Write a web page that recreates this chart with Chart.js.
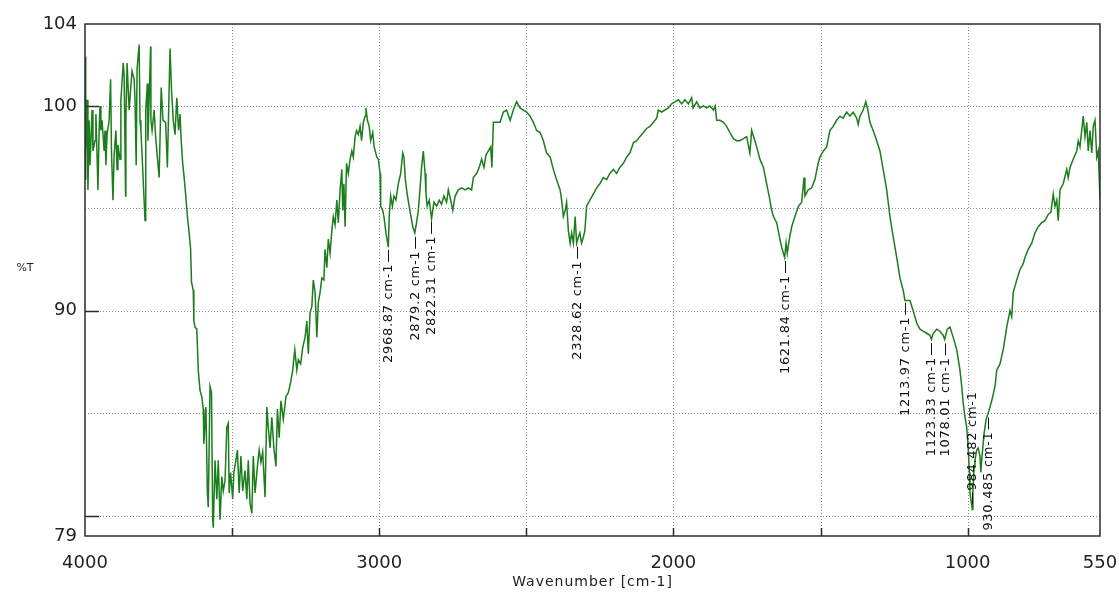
<!DOCTYPE html>
<html><head><meta charset="utf-8">
<script src="https://cdn.jsdelivr.net/npm/chart.js@4.4.0/dist/chart.umd.min.js"></script>
<style>html,body{margin:0;padding:0;background:#fff;overflow:hidden;}</style>
</head><body>
<canvas id="c" width="1119" height="595"></canvas>
<script>
// ---- data ----
const wavenumbers = [
4000,3998,3997,3993,3990,3986,3983,3976,3973,3966,
3963,3959,3956,3952,3949,3946,3942,3935,3932,3929,
3925,3918,3913,3910,3905,3901,3895,3891,3888,3881,
3878,3870,3867,3862,3861,3857,3850,3844,3840,3833,
3830,3826,3823,3816,3813,3810,3806,3796,3794,3793,
3788,3786,3777,3776,3772,3765,3760,3748,3741,3735,
3726,3720,3711,3706,3700,3694,3688,3682,3677,3673,
3668,3663,3658,3652,3646,3641,3638,3632,3630,3626,
3620,3615,3609,3603,3598,3596,3589,3584,3581,3575,
3570,3566,3564,3558,3552,3547,3541,3535,3530,3524,
3518,3513,3510,3505,3498,3494,3487,3482,3476,3470,
3464,3456,3450,3445,3439,3433,3428,3422,3414,3408,
3402,3396,3388,3382,3377,3371,3365,3358,3351,3346,
3340,3334,3326,3317,3309,3301,3294,3287,3280,3275,
3267,3260,3252,3246,3241,3235,3229,3224,3218,3212,
3207,3201,3195,3188,3184,3178,3173,3167,3161,3156,
3150,3144,3139,3133,3127,3124,3120,3116,3111,3105,
3099,3093,3088,3082,3077,3071,3065,3060,3054,3048,
3045,3040,3034,3029,3022,3017,3008,3003,2997,2995,
2988,2984,2977,2969,2966,2961,2955,2950,2943,2935,
2927,2920,2916,2911,2905,2898,2892,2886,2879,2873,
2867,2861,2856,2850,2844,2841,2837,2830,2822,2814,
2805,2796,2788,2780,2771,2765,2757,2750,2742,2731,
2720,2708,2697,2686,2680,2669,2660,2652,2644,2637,
2629,2621,2617,2612,2603,2595,2589,2578,2567,2555,
2544,2533,2521,2510,2499,2487,2476,2465,2453,2442,
2431,2419,2408,2397,2385,2380,2374,2368,2363,2357,
2351,2346,2340,2334,2329,2323,2318,2312,2306,2301,
2295,2284,2272,2261,2250,2238,2227,2216,2204,2193,
2182,2170,2159,2148,2136,2125,2114,2102,2091,2080,
2068,2057,2051,2040,2029,2017,2006,1995,1983,1972,
1961,1949,1938,1933,1921,1910,1898,1887,1876,1864,
1858,1853,1842,1830,1819,1808,1796,1785,1774,1762,
1751,1740,1734,1723,1717,1706,1694,1683,1672,1666,
1660,1649,1638,1632,1622,1617,1613,1606,1598,1587,
1575,1564,1556,1553,1542,1530,1519,1508,1502,1490,
1479,1468,1457,1445,1434,1423,1411,1400,1389,1377,
1372,1366,1355,1346,1339,1332,1321,1309,1298,1287,
1275,1264,1253,1241,1230,1219,1213,1196,1185,1173,
1162,1151,1139,1128,1123,1117,1105,1094,1083,1078,
1069,1060,1049,1037,1026,1020,1015,1009,1003,998,
994,992,984,982,978,975,969,964,958,955,
951,944,937,930,918,907,901,890,879,867,
856,850,845,833,822,811,805,794,782,771,
760,748,737,726,717,709,703,697,692,686,
675,663,658,652,641,629,624,618,607,601,
595,590,584,578,573,567,561,556,550
];
const transmittance = [
102.4,96.4,97.6,100.3,95.9,99.3,97.1,99.8,97.8,98.3,
99.6,97.6,95.9,98.8,100.0,98.8,99.3,97.8,98.8,97.1,
98.6,99.3,101.3,97.8,95.4,97.6,98.8,96.9,98.1,97.4,
100.3,102.1,101.5,95.6,99.3,102.1,99.8,101.0,101.7,101.3,
100.3,97.1,101.8,103.0,99.3,98.8,97.6,94.4,96.4,99.8,
101.1,98.3,102.9,99.3,98.8,99.8,98.5,96.5,100.9,99.3,
99.2,97.0,102.8,100.8,99.3,98.6,100.4,98.8,99.6,98.3,
97.2,96.5,95.7,94.6,93.8,93.0,91.4,91.0,89.5,89.2,
89.1,87.1,86.1,85.8,85.2,83.5,85.3,81.1,80.4,86.3,
86.0,79.8,79.4,82.7,80.8,82.7,79.8,81.9,81.2,81.7,
84.3,84.5,81.1,82.1,80.8,82.1,82.7,83.2,81.1,82.9,
81.2,82.2,80.8,82.7,80.6,80.1,82.9,81.1,82.4,83.2,
82.6,83.1,80.9,85.3,84.3,83.3,84.8,83.3,82.4,85.2,
83.8,85.6,84.7,85.8,86.0,86.5,87.1,88.1,87.1,87.6,
87.4,88.2,88.7,89.5,87.9,89.9,90.2,91.5,90.9,88.7,
90.4,90.9,91.6,91.5,93.0,92.1,93.5,92.8,93.9,94.6,
94.2,95.4,94.3,95.9,96.9,94.9,96.2,94.1,97.2,96.7,
97.4,97.8,97.5,98.5,98.8,98.6,99.0,98.3,99.2,99.5,
99.9,99.3,99.0,98.3,98.7,98.0,97.5,97.4,96.7,95.1,
94.9,94.6,93.8,93.1,94.6,95.6,95.1,95.6,95.4,96.2,
96.7,97.7,97.5,96.4,95.7,95.1,94.6,94.1,93.8,94.3,
94.9,96.0,97.0,97.8,96.7,95.7,95.1,95.4,94.5,95.3,
95.1,95.4,95.2,95.6,95.3,95.9,95.4,94.9,95.6,95.9,
96.0,95.9,96.0,95.9,96.5,96.7,97.0,97.4,97.0,97.6,
97.8,98.0,97.0,99.2,99.2,99.2,99.2,99.7,99.8,99.3,
99.8,100.2,99.9,99.8,99.7,99.5,99.2,98.8,98.7,98.3,
97.7,97.5,96.9,96.4,95.9,95.4,94.6,94.9,95.3,93.9,
93.3,93.8,93.3,94.6,93.3,93.6,93.8,93.3,93.6,93.9,
95.1,95.4,95.7,96.0,96.2,96.5,96.4,96.7,96.9,96.7,
97.0,97.2,97.5,97.7,98.2,98.3,98.5,98.7,98.9,99.0,
99.2,99.4,99.8,99.7,99.8,99.9,100.1,100.2,100.3,100.1,
100.3,100.1,100.4,99.9,100.2,99.9,100.0,99.9,100.0,99.8,
100.0,99.3,99.3,99.2,99.0,98.7,98.4,98.3,98.3,98.4,
98.5,97.7,98.8,98.3,98.0,97.4,97.0,96.2,95.4,94.9,
94.6,94.3,93.5,93.1,92.6,93.3,92.8,93.5,94.1,94.6,
95.1,95.3,96.5,95.6,95.9,96.0,96.4,97.2,97.5,97.8,
98.0,98.8,99.0,99.3,99.5,99.4,99.7,99.5,99.7,99.4,
99.1,99.5,99.8,100.2,99.8,99.2,98.8,98.3,97.8,96.9,
95.9,94.6,93.6,92.6,91.6,91.0,90.5,90.5,90.0,89.4,
89.1,89.0,88.9,88.8,88.6,88.9,89.1,89.0,88.8,88.6,
89.1,89.2,88.7,88.1,87.1,86.3,85.5,84.8,84.3,83.3,
82.1,81.1,80.3,81.1,82.4,82.7,83.2,83.3,82.9,82.1,
82.9,84.0,84.7,85.0,85.6,86.3,87.1,87.4,88.1,89.2,
90.0,89.7,90.9,91.5,92.0,92.3,92.6,93.0,93.3,93.8,
94.1,94.3,94.4,94.7,94.8,95.7,95.1,95.4,94.4,95.9,
96.2,96.9,96.5,97.0,97.4,97.8,98.3,98.0,99.5,98.5,
99.2,97.8,98.8,97.7,99.0,99.3,97.5,97.8,95.4
];
const xTickValues = [4000, 3000, 2000, 1000, 550];
const yTickValues = [79, 90, 100, 104];
const xGridValues = [3500, 3000, 2500, 2000, 1500, 1000];
const yGridValues = [80, 85, 90, 95, 100];
const yMarkValues = [80, 90, 100];
const peakPositions = [2968.87, 2879.2, 2822.31, 2328.62, 1621.84, 1213.97, 1123.33, 1078.01, 984.482, 930.485];
const peakLabels = ["2968.87 cm-1", "2879.2 cm-1", "2822.31 cm-1", "2328.62 cm-1", "1621.84 cm-1",
                    "1213.97 cm-1", "1123.33 cm-1", "1078.01 cm-1", "984.482 cm-1", "930.485 cm-1"];
const xTitle = "Wavenumber [cm-1]";
const yTitle = "%T";

function tAt(w) {
  for (let i = 0; i < wavenumbers.length - 1; i++) {
    const a = wavenumbers[i], b = wavenumbers[i + 1];
    if ((a - w) * (b - w) <= 0) {
      const f = (w - a) / (b - a);
      return transmittance[i] + f * (transmittance[i + 1] - transmittance[i]);
    }
  }
  return null;
}

const decor = {
  id: 'decor',
  beforeDatasetsDraw(chart) {
    const { ctx, chartArea: a, scales: { x, y } } = chart;
    ctx.save();
    ctx.strokeStyle = '#8a8a8a';
    ctx.lineWidth = 1;
    ctx.setLineDash([1, 2]);
    xGridValues.forEach(v => {
      const px = Math.round(x.getPixelForValue(v)) + 0.5;
      ctx.beginPath(); ctx.moveTo(px, a.top); ctx.lineTo(px, a.bottom); ctx.stroke();
    });
    yGridValues.forEach(v => {
      const py = Math.round(y.getPixelForValue(v)) + 0.5;
      ctx.beginPath(); ctx.moveTo(a.left, py); ctx.lineTo(a.right, py); ctx.stroke();
    });
    ctx.restore();
  },
  afterDatasetsDraw(chart) {
    const { ctx, chartArea: a, scales: { x, y } } = chart;
    ctx.save();
    // frame
    ctx.strokeStyle = '#2b2b2b';
    ctx.lineWidth = 1.5;
    ctx.strokeRect(a.left, a.top, a.right - a.left, a.bottom - a.top);
    // inward tick marks
    yMarkValues.forEach(v => {
      const py = Math.round(y.getPixelForValue(v)) + 0.5;
      ctx.beginPath(); ctx.moveTo(a.left, py); ctx.lineTo(a.left + 14, py); ctx.stroke();
    });
    xGridValues.forEach(v => {
      const px = Math.round(x.getPixelForValue(v)) + 0.5;
      ctx.beginPath(); ctx.moveTo(px, a.bottom); ctx.lineTo(px, a.bottom - 8); ctx.stroke();
    });
    // peak labels
    ctx.font = '13px "DejaVu Sans"';
    if ('letterSpacing' in ctx) ctx.letterSpacing = '0.7px';
    ctx.fillStyle = '#111';
    ctx.strokeStyle = '#111';
    ctx.lineWidth = 1;
    const gap = 4, dash = 12, sp = 2;
    peakPositions.forEach((w, i) => {
      const px = Math.round(x.getPixelForValue(w)) + 0.5;
      const py = y.getPixelForValue(tAt(w));
      const text = peakLabels[i];
      const tw = ctx.measureText(text).width;
      if (py + gap + dash + sp + tw <= a.bottom) {
        ctx.beginPath(); ctx.moveTo(px, py + gap); ctx.lineTo(px, py + gap + dash); ctx.stroke();
        ctx.save(); ctx.translate(px, py + gap + dash + sp); ctx.rotate(-Math.PI / 2);
        ctx.textAlign = 'right'; ctx.textBaseline = 'middle'; ctx.fillText(text, 0, 0); ctx.restore();
      } else {
        ctx.beginPath(); ctx.moveTo(px, py - gap); ctx.lineTo(px, py - gap - dash); ctx.stroke();
        ctx.save(); ctx.translate(px, py - gap - dash - sp); ctx.rotate(-Math.PI / 2);
        ctx.textAlign = 'left'; ctx.textBaseline = 'middle'; ctx.fillText(text, 0, 0); ctx.restore();
      }
    });
    // y title (horizontal)
    if ('letterSpacing' in ctx) ctx.letterSpacing = '0px';
    ctx.font = '11px "DejaVu Sans"';
    ctx.fillStyle = '#222';
    ctx.textAlign = 'center'; ctx.textBaseline = 'middle';
    ctx.fillText(yTitle, 25, 268);
    // x title
    ctx.font = '14px "DejaVu Sans"';
    if ('letterSpacing' in ctx) ctx.letterSpacing = '1px';
    ctx.fillText(xTitle, (a.left + a.right) / 2, 582);
    ctx.restore();
  }
};

new Chart(document.getElementById('c'), {
  type: 'line',
  data: {
    datasets: [{
      data: wavenumbers.map((w, i) => ({ x: w, y: transmittance[i] })),
      borderColor: '#1b7d1b',
      borderWidth: 1.5,
      pointRadius: 0,
      tension: 0,
      fill: false
    }]
  },
  options: {
    responsive: false,
    animation: false,
    devicePixelRatio: 1,
    layout: { padding: { top: 24, right: 19, left: 0, bottom: 0 } },
    plugins: { legend: { display: false }, tooltip: { enabled: false } },
    scales: {
      x: {
        type: 'linear', min: 550, max: 4000, reverse: true,
        afterBuildTicks(s) { s.ticks = xTickValues.map(v => ({ value: v })); },
        afterFit(s) { s.height = 59; s.paddingLeft = 0; s.paddingRight = 0; },
        grid: { display: false, drawTicks: false },
        border: { display: false },
        ticks: { autoSkip: false, maxRotation: 0, padding: 17, color: '#222',
                 font: { family: 'DejaVu Sans', size: 18 }, callback: v => String(v) }
      },
      y: {
        type: 'linear', min: 79, max: 104,
        afterBuildTicks(s) { s.ticks = yTickValues.map(v => ({ value: v })); },
        afterFit(s) { s.width = 85; s.paddingTop = 0; s.paddingBottom = 0; },
        grid: { display: false, drawTicks: false },
        border: { display: false },
        ticks: { autoSkip: false, padding: 8, color: '#222',
                 font: { family: 'DejaVu Sans', size: 18 }, callback: v => String(v) }
      }
    }
  },
  plugins: [decor]
});
</script>
</body></html>
